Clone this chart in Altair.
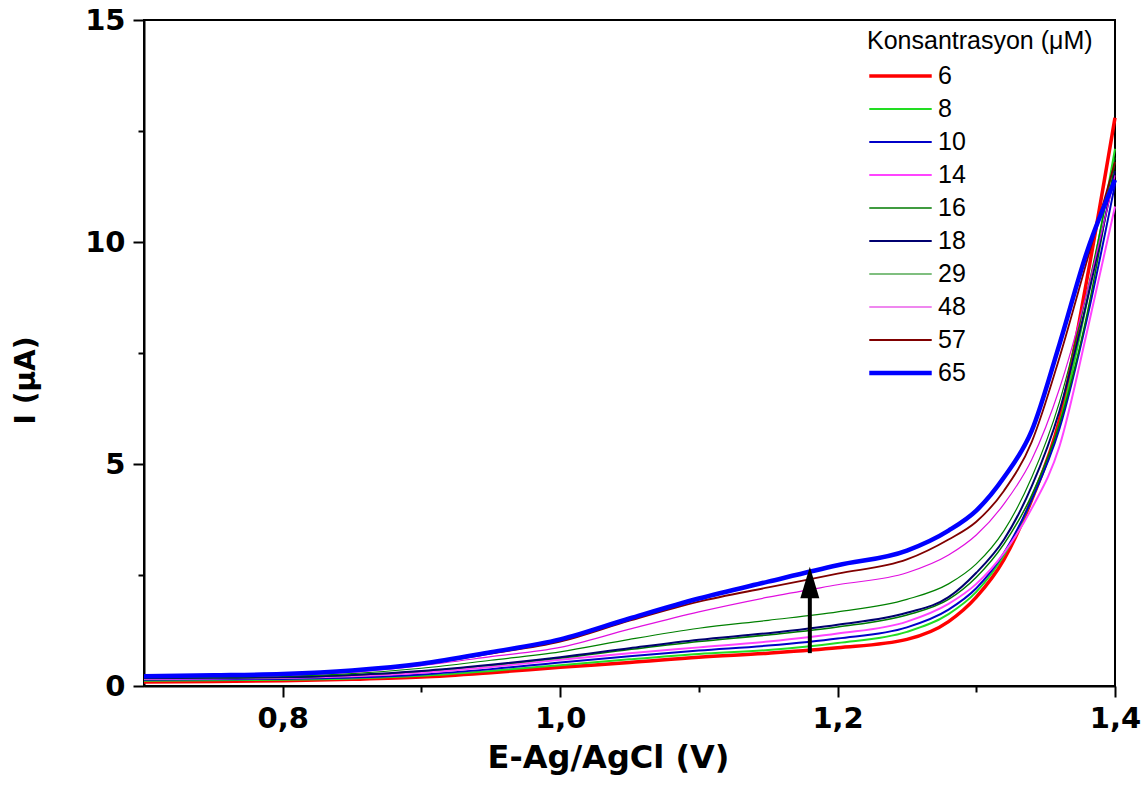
import altair as alt
import pandas as pd

# Potential (V)
E = [0.70, 0.75, 0.80, 0.85, 0.90, 0.95, 1.00, 1.05, 1.10, 1.15, 1.20, 1.25, 1.28, 1.30, 1.32, 1.34, 1.36, 1.38, 1.40]

# Current (uA) per concentration (uM)
I_6  = [0.09, 0.10, 0.12, 0.15, 0.20, 0.30, 0.42, 0.53, 0.65, 0.74, 0.86, 1.05, 1.45, 2.00, 2.85, 4.20, 6.00, 9.20, 12.80]
I_8  = [0.12, 0.13, 0.14, 0.17, 0.23, 0.34, 0.47, 0.60, 0.72, 0.81, 0.97, 1.22, 1.62, 2.12, 2.95, 4.20, 5.90, 8.70, 12.10]
I_10 = [0.14, 0.15, 0.16, 0.19, 0.26, 0.38, 0.53, 0.67, 0.80, 0.91, 1.07, 1.32, 1.72, 2.20, 3.00, 4.20, 5.80, 8.30, 11.30]
I_14 = [0.16, 0.17, 0.18, 0.22, 0.30, 0.43, 0.59, 0.74, 0.87, 1.00, 1.18, 1.45, 1.85, 2.30, 3.00, 4.00, 5.40, 8.00, 10.80]
I_16 = [0.17, 0.18, 0.19, 0.24, 0.33, 0.47, 0.63, 0.82, 1.00, 1.15, 1.33, 1.60, 1.95, 2.45, 3.20, 4.30, 5.90, 8.40, 11.80]
I_18 = [0.18, 0.19, 0.20, 0.25, 0.34, 0.48, 0.65, 0.85, 1.04, 1.19, 1.38, 1.65, 2.00, 2.55, 3.30, 4.50, 6.20, 8.70, 11.60]
I_29 = [0.19, 0.20, 0.22, 0.28, 0.40, 0.58, 0.77, 1.05, 1.30, 1.48, 1.67, 1.95, 2.30, 2.75, 3.50, 4.70, 6.40, 8.90, 11.90]
I_48 = [0.20, 0.22, 0.24, 0.31, 0.46, 0.66, 0.87, 1.28, 1.67, 2.00, 2.28, 2.55, 2.95, 3.40, 4.10, 5.10, 6.70, 8.90, 11.50]
I_57 = [0.21, 0.23, 0.26, 0.34, 0.49, 0.73, 1.00, 1.47, 1.90, 2.22, 2.53, 2.85, 3.30, 3.70, 4.40, 5.50, 7.40, 9.60, 11.80]
I_65 = [0.22, 0.24, 0.27, 0.35, 0.50, 0.76, 1.05, 1.52, 1.97, 2.35, 2.72, 3.05, 3.50, 3.95, 4.70, 5.75, 7.70, 9.80, 11.40]

conc_labels = ["6", "8", "10", "14", "16", "18", "29", "48", "57", "65"]
series = [I_6, I_8, I_10, I_14, I_16, I_18, I_29, I_48, I_57, I_65]
colors = ["#FF0000", "#22DD22", "#0000C8", "#FF44FF", "#007A00", "#000070", "#008000", "#E010E0", "#800000", "#0000FF"]
widths = [3.5, 2.0, 2.0, 2.0, 1.5, 2.0, 1.2, 1.2, 1.8, 4.5]

# Arrow (increasing concentration)
arrow_E = [1.18]
arrow_from = [0.74]
arrow_shaft_to = [2.30]
arrow_head_at = [2.33]

rows = []
for lab, vals in zip(conc_labels, series):
    for e, i in zip(E, vals):
        rows.append({"E": e, "I": i, "conc": lab, "ord": conc_labels.index(lab)})
df = pd.DataFrame(rows)

FONT = "DejaVu Sans"
LFONT = "Liberation Sans"

legend = alt.Legend(
    title="Konsantrasyon (μM)",
    orient="none",
    legendX=723,
    legendY=9,
    titleFont=LFONT,
    titleFontSize=25,
    titleFontWeight="normal",
    titleColor="black",
    titlePadding=7,
    titleLimit=600,
    labelFont=LFONT,
    labelFontSize=25,
    labelColor="black",
    labelLimit=200,
    symbolType="stroke",
    symbolSize=3900,
    labelOffset=4,
    clipHeight=30,
    rowPadding=3,
)

x_scale = alt.Scale(domain=[0.7, 1.4], nice=False, zero=False)
y_scale = alt.Scale(domain=[0, 15], nice=False)

x_axis = alt.Axis(
    title="E-Ag/AgCl (V)",
    values=[0.8, 0.9, 1.0, 1.1, 1.2, 1.3, 1.4],
    labelExpr="round(datum.value*10) % 2 == 1 ? '' : replace(format(datum.value, '.1f'), '.', ',')",
    tickSize={"condition": {"test": "round(datum.value*10) % 2 == 1", "value": 6}, "value": 11},
    grid=False,
    labelFont=FONT, labelFontSize=29, labelFontWeight="bold", labelColor="black",
    labelPadding=7, labelFlush=False,
    titleFont=FONT, titleFontSize=32, titleFontWeight="bold", titleColor="black",
    titlePadding=9,
    titleX=464,
    domainColor="black", domainWidth=2, tickColor="black", tickWidth=2,
)
y_axis = alt.Axis(
    title="I (μA)",
    values=[0, 2.5, 5, 7.5, 10, 12.5, 15],
    labelExpr="datum.value % 5 == 0 ? datum.label : ''",
    tickSize={"condition": {"test": "datum.value % 5 != 0", "value": 6}, "value": 11},
    grid=False,
    labelFont=FONT, labelFontSize=29, labelFontWeight="bold", labelColor="black",
    labelPadding=8, labelFlush=False,
    titleFont=FONT, titleFontSize=28, titleFontWeight="bold", titleColor="black",
    titlePadding=44,
    titleY=360,
    domainColor="black", domainWidth=2, tickColor="black", tickWidth=2,
)

lines = alt.Chart(df).mark_line(interpolate="monotone").encode(
    x=alt.X("E:Q", scale=x_scale, axis=x_axis),
    y=alt.Y("I:Q", scale=y_scale, axis=y_axis),
    color=alt.Color("conc:N", scale=alt.Scale(domain=conc_labels, range=colors), legend=legend, sort=conc_labels),
    strokeWidth=alt.StrokeWidth("conc:N", scale=alt.Scale(type="ordinal", domain=conc_labels, range=widths), legend=legend, sort=conc_labels),
    order=alt.Order("ord:Q"),
    detail="conc:N",
)

arrow_df = pd.DataFrame({"E": arrow_E, "y0": arrow_from, "y1": arrow_shaft_to, "yh": arrow_head_at})
shaft = alt.Chart(arrow_df).mark_rule(color="black", strokeWidth=4).encode(
    x="E:Q", y="y0:Q", y2="y1:Q"
)
head = alt.Chart(arrow_df).mark_point(
    shape="M0,-1L0.6,1L-0.6,1Z", filled=True, color="black", opacity=1, size=1000
).encode(x="E:Q", y="yh:Q")

chart = alt.layer(lines, shaft, head).properties(
    width=971, height=666,
    autosize=alt.AutoSizeParams(type="none"),
    padding={"left": 144, "top": 20, "right": 32, "bottom": 105},
    background="white",
).configure_view(stroke="black", strokeWidth=2)

chart.save("out.html", embed_options={"renderer": "svg", "actions": False})
